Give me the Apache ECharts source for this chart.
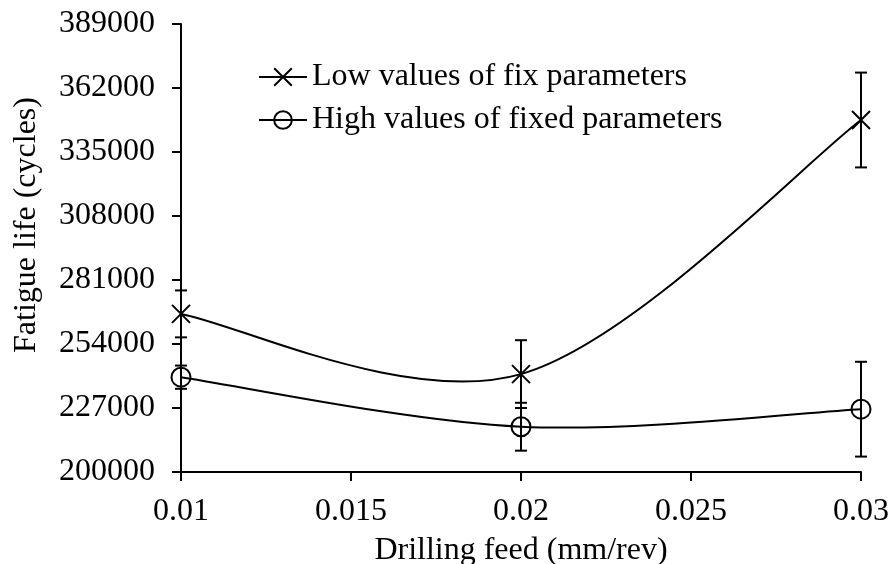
<!DOCTYPE html>
<html>
<head>
<meta charset="utf-8">
<script src="https://cdn.jsdelivr.net/npm/echarts@6/dist/echarts.min.js"></script>
<style>
html,body{margin:0;padding:0;background:#fff;}
#chart{width:891px;height:564px;}
</style>
</head>
<body>
<div id="chart"></div>
<script>
var feed = [0.01, 0.02, 0.03];
var lowValues = [266700, 241300, 348500];
var lowErrors = [9900, 14300, 20000];
var highValues = [240000, 219100, 226500];
var highErrors = [4900, 10100, 20000];
var yTicks = [200000, 227000, 254000, 281000, 308000, 335000, 362000, 389000];
var xTicks = [0.01, 0.015, 0.02, 0.025, 0.03];
var seriesNames = ['Low values of fix parameters', 'High values of fixed parameters'];

var FONT = 'Liberation Serif';
var LW = 2;
var xSymbol = 'path://M0,0L10,10M10,0L0,10';

function pairs(vals) { return feed.map(function (f, i) { return [f, vals[i]]; }); }
function errData(vals, errs) {
  return feed.map(function (f, i) { return [f, vals[i] - errs[i], vals[i] + errs[i]]; });
}
function renderErr(params, api) {
  var x = api.value(0);
  var lo = api.coord([x, api.value(1)]);
  var hi = api.coord([x, api.value(2)]);
  var w = 6;
  var st = { stroke: '#000', lineWidth: LW };
  return {
    type: 'group',
    children: [
      { type: 'line', shape: { x1: lo[0], y1: lo[1], x2: hi[0], y2: hi[1] }, style: st },
      { type: 'line', shape: { x1: lo[0] - w, y1: lo[1], x2: lo[0] + w, y2: lo[1] }, style: st },
      { type: 'line', shape: { x1: hi[0] - w, y1: hi[1], x2: hi[0] + w, y2: hi[1] }, style: st }
    ]
  };
}
// Spreadsheet-style smoothed curve (Catmull-Rom Bezier, 1/6 tension) through the data points
function curveRenderer(vals) {
  return function (params, api) {
    if (params.dataIndex !== 0) return null;
    var p = feed.map(function (f, i) { return api.coord([f, vals[i]]); });
    var n = p.length;
    var d = 'M' + p[0][0] + ' ' + p[0][1];
    for (var i = 0; i < n - 1; i++) {
      var a = p[i - 1] || p[i], b = p[i], c = p[i + 1], e = p[i + 2] || p[i + 1];
      var c1x = b[0] + (c[0] - a[0]) / 6, c1y = b[1] + (c[1] - a[1]) / 6;
      var c2x = c[0] - (e[0] - b[0]) / 6, c2y = c[1] - (e[1] - b[1]) / 6;
      d += ' C' + c1x + ' ' + c1y + ' ' + c2x + ' ' + c2y + ' ' + c[0] + ' ' + c[1];
    }
    return { type: 'path', shape: { pathData: d }, style: { fill: null, stroke: '#000', lineWidth: LW } };
  };
}

var chart = echarts.init(document.getElementById('chart'), null, { renderer: 'canvas' });
chart.setOption({
  backgroundColor: '#fff',
  animation: false,
  textStyle: { fontFamily: FONT, color: '#000' },
  grid: { left: 181, right: 30, top: 24, bottom: 92, containLabel: false, outerBoundsMode: 'none' },
  legend: {
    orient: 'vertical',
    left: 253,
    top: 56,
    itemWidth: 48,
    itemHeight: 22,
    itemGap: 11,
    data: seriesNames,
    lineStyle: { color: '#000', width: LW, opacity: 1 },
    textStyle: { fontFamily: FONT, fontSize: 32, color: '#000' }
  },
  xAxis: {
    type: 'value',
    min: 0.01,
    max: 0.03,
    interval: 0.005,
    name: 'Drilling feed (mm/rev)',
    nameLocation: 'middle',
    nameGap: 63,
    nameTextStyle: { fontFamily: FONT, fontSize: 32, color: '#000' },
    axisLine: { lineStyle: { color: '#000', width: LW } },
    axisTick: { show: true, inside: false, length: 9, lineStyle: { color: '#000', width: LW }, customValues: xTicks },
    axisLabel: { fontFamily: FONT, fontSize: 32, color: '#000', margin: 24, customValues: xTicks,
      formatter: function (v) { return String(+(+v).toFixed(3)); } },
    splitLine: { show: false }
  },
  yAxis: {
    type: 'value',
    min: 200000,
    max: 389000,
    interval: 27000,
    axisLine: { show: true, lineStyle: { color: '#000', width: LW } },
    axisTick: { show: true, inside: false, length: 9, lineStyle: { color: '#000', width: LW }, customValues: yTicks },
    axisLabel: { fontFamily: FONT, fontSize: 32, color: '#000', margin: 26, customValues: yTicks,
      formatter: function (v) { return String(v); } },
    splitLine: { show: false }
  },
  graphic: [{
    type: 'text',
    rotation: Math.PI / 2,
    x: 27, y: 225,
    style: { text: 'Fatigue life (cycles)', font: '32px "Liberation Serif"', fill: '#000', align: 'center', verticalAlign: 'middle' }
  }],
  series: [
    {
      name: seriesNames[0],
      type: 'line',
      data: pairs(lowValues),
      symbol: xSymbol,
      symbolSize: 18,
      lineStyle: { color: '#000', width: LW, opacity: 0 },
      itemStyle: { color: '#000', borderColor: '#000', borderWidth: LW },
      z: 4
    },
    {
      name: seriesNames[1],
      type: 'line',
      data: pairs(highValues),
      symbol: 'circle',
      symbolSize: 19,
      lineStyle: { color: '#000', width: LW, opacity: 0 },
      itemStyle: { color: 'rgba(0,0,0,0)', borderColor: '#000', borderWidth: LW },
      z: 4
    },
    {
      type: 'custom',
      data: pairs(lowValues),
      encode: { x: 0, y: 1 },
      renderItem: curveRenderer(lowValues),
      z: 3,
      silent: true
    },
    {
      type: 'custom',
      data: pairs(highValues),
      encode: { x: 0, y: 1 },
      renderItem: curveRenderer(highValues),
      z: 3,
      silent: true
    },
    {
      type: 'custom',
      data: errData(lowValues, lowErrors),
      encode: { x: 0, y: [1, 2] },
      renderItem: renderErr,
      z: 2,
      silent: true
    },
    {
      type: 'custom',
      data: errData(highValues, highErrors),
      encode: { x: 0, y: [1, 2] },
      renderItem: renderErr,
      z: 2,
      silent: true
    }
  ]
});
</script>
</body>
</html>
